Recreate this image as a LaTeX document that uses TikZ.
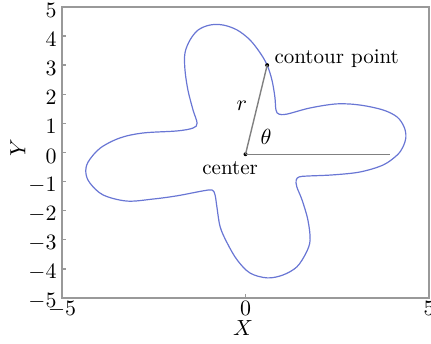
\documentclass[tikz,border=0pt]{standalone}
\usetikzlibrary{positioning}

\definecolor{curveblue}{RGB}{105,118,212}
\tikzset{
	dot/.style={circle, fill=black, inner sep=0pt, minimum size=2pt},
	axisline/.style={draw=black!40, line width=0.7pt},
	radius line/.style={draw=black!50, line width=0.7pt}
}

\begin{document}
\begin{tikzpicture}[x=18.35pt, y=14.55pt, font=\fontsize{10.5}{12.6}\selectfont]
	\useasboundingbox (-6.69,-6.58) rectangle (5.054,5.24);
	% frame and ticks
	\draw[axisline] (-5,-5) rectangle (5,5);
	\foreach \y in {-5,...,5} {
		\draw[axisline] (-5,\y) -- (-4.88,\y);
		\node[anchor=east, inner sep=0pt] at (-5.14,\y-0.12) {$\y$};
	}
	\draw[axisline] (0,-5) -- (0,-4.85);
	\foreach \x in {-5,0,5} {
		\node[anchor=north, inner sep=0pt] at (\x,-5.12) {$\x$};
	}
	\node (xlabel) at (-0.07,-6.03) {$X$};
	\node[rotate=90] (ylabel) at (-6.2,0.15) {$Y$};

	% the contour
	\draw[curveblue, line width=0.6pt] plot[smooth cycle, tension=0.55] coordinates {
		(4.32,0.88) (4.13,1.22) (3.75,1.46) (3.12,1.63) (2.49,1.67) (1.76,1.53)
		(1.13,1.32) (0.91,1.32) (0.83,1.46) (0.80,1.91) (0.72,2.49) (0.59,3.00)
		(0.40,3.42) (0.12,3.87) (-0.23,4.21) (-0.61,4.38) (-0.97,4.38) (-1.29,4.21)
		(-1.51,3.87) (-1.65,3.42) (-1.65,2.84) (-1.57,2.15) (-1.43,1.46) (-1.32,1.01)
		(-1.43,0.84) (-1.87,0.74) (-2.79,0.67) (-3.42,0.50) (-3.96,0.15) (-4.29,-0.33)
		(-4.35,-0.70) (-4.24,-1.05) (-3.88,-1.46) (-3.23,-1.67) (-2.52,-1.60) (-1.87,-1.49)
		(-1.16,-1.32) (-0.91,-1.29) (-0.83,-1.46) (-0.78,-1.87) (-0.69,-2.56) (-0.50,-3.11)
		(-0.23,-3.69) (0.12,-4.14) (0.59,-4.31) (1.02,-4.21) (1.40,-3.93) (1.65,-3.45)
		(1.76,-3.01) (1.70,-2.32) (1.54,-1.63) (1.40,-1.19) (1.38,-0.95) (1.46,-0.84)
		(1.68,-0.81) (2.38,-0.77) (3.12,-0.67) (3.75,-0.43) (4.13,-0.09) (4.29,0.19)
		(4.37,0.53)
	};

	% center, contour point and angle
	\node[dot] (ctr) at (0,-0.06) {};
	\node[dot] (cp) at (0.59,3.0) {};
	\coordinate (refend) at (3.95,-0.06);
	\draw[radius line] (ctr.center) -- (cp.center);
	\draw[radius line] (ctr.center) -- (refend);
	\node[anchor=west, inner sep=0pt] (cplabel) at (0.78,3.23) {contour point};
	\node[inner sep=0pt] (ctrlabel) at (-0.42,-0.55) {center};
	\node (rlabel) at (-0.10,1.60) {$r$};
	\node (thetalabel) at (0.56,0.53) {$\theta$};
\end{tikzpicture}
\end{document}
